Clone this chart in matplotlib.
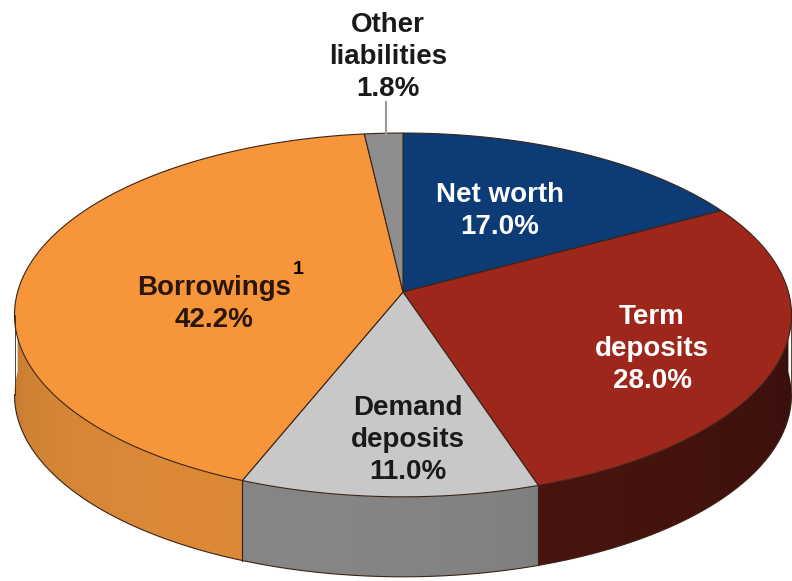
import numpy as np
import matplotlib.pyplot as plt
from matplotlib.patches import Polygon

# liabilities mix, clockwise from 12 o'clock
labels = ["Net worth", "Term\ndeposits", "Demand\ndeposits", "Borrowings", "Other\nliabilities"]
shares = [17.0, 28.0, 11.0, 42.2, 1.8]
top_colors = ["#0c3b76", "#9e271b", "#c8c8c8", "#f7953a", "#8e8e8e"]
side_colors = ["#0a2c58", "#4c1510", "#868686", "#dc8a38", "#6a6a6a"]
text_colors = ["white", "white", "#1a1a1a", "#2a1608", "#1a1a1a"]
label_pos = [(500, 211), (652, 349), (408, 440), (214, 304), (388, 57)]

plt.rcParams['font.family'] = ['Liberation Sans', 'DejaVu Sans']

# disc seen in perspective (pixel space, y down); (cx, cy) is the disc centre
cx, cy = 403, 292
A, B, k = 385.4, 179.0, 0.126
depth = 80


def rim(t):
    t = np.radians(t)
    w = 1 + k * np.sin(t)
    return cx + A * np.cos(t) / w, cy - B * np.sin(t) / w


def to_rgb(hex_color):
    return np.array([int(hex_color[i:i + 2], 16) for i in (1, 3, 5)]) / 255


fig = plt.figure(figsize=(7.92, 5.81), dpi=100)
ax = fig.add_axes([0, 0, 1, 1])

edge = "#3a2418"
cum = np.concatenate([[0], np.cumsum(shares)])
spans = [(90 - cum[i + 1] * 3.6, 90 - cum[i] * 3.6) for i in range(len(shares))]

# lighting across the front wall, by x position
xg = np.linspace(0, 792, 800)
tg = -np.degrees(np.arccos(np.clip((xg - cx) / A, -1, 1)))
light = 0.84 + 0.16 * np.cos(np.radians(tg + 115))

# side walls, only the front half of the disc shows
for (lo, hi), col in zip(spans, side_colors):
    lo_f, hi_f = max(lo, -180), min(hi, 0)
    if lo_f >= hi_f:
        continue
    ts = np.linspace(lo_f, hi_f, 200)
    xs, ys = rim(ts)
    pts = list(zip(xs, ys)) + list(zip(xs[::-1], ys[::-1] + depth))
    wall = Polygon(pts, closed=True, facecolor='none', edgecolor='none')
    ax.add_patch(wall)
    grad = np.clip(to_rgb(col)[None, None, :] * light[None, :, None], 0, 1)
    im = ax.imshow(grad, extent=(0, 792, 581, 0), aspect='auto', interpolation='bilinear')
    im.set_clip_path(wall)
    for t in (lo_f, hi_f):
        if -180 < t < 0:
            x, y = rim(t)
            ax.plot([x, x], [y, y + depth], color=edge, lw=0.8)

# outline of the wall: bottom rim and the two silhouette verticals
t_side = np.degrees(np.arcsin(k))
tb = np.linspace(-180 + t_side, -t_side, 300)
xb, yb = rim(tb)
ax.plot(xb, yb + depth, color=edge, lw=0.8)
for t in (-180 + t_side, -t_side):
    x, y = rim(t)
    ax.plot([x, x], [y, y + depth], color=edge, lw=0.6)

# top face wedges
for (lo, hi), col in zip(spans, top_colors):
    ts = np.linspace(hi, lo, max(int((hi - lo) * 2), 4))
    xs, ys = rim(ts)
    pts = [(cx, cy)] + list(zip(xs, ys))
    ax.add_patch(Polygon(pts, closed=True, facecolor=col, edgecolor=edge, linewidth=0.8))

ax.set_xlim(0, 792)
ax.set_ylim(581, 0)
ax.axis('off')

# labels
fs = 20
for name, val, (x, y), tc in zip(labels, shares, label_pos, text_colors):
    ax.text(x, y, f"{name}\n{val:.1f}%", color=tc, fontsize=fs, fontweight='bold',
            ha='center', va='center', linespacing=1.3)
ax.text(293, 269, "1", color="black", fontsize=14, fontweight='bold', ha='left', va='center')
ax.plot([386, 386], [102, 134], color="#9a9a9a", lw=1.5)

fig.savefig("out.png", dpi=100)
